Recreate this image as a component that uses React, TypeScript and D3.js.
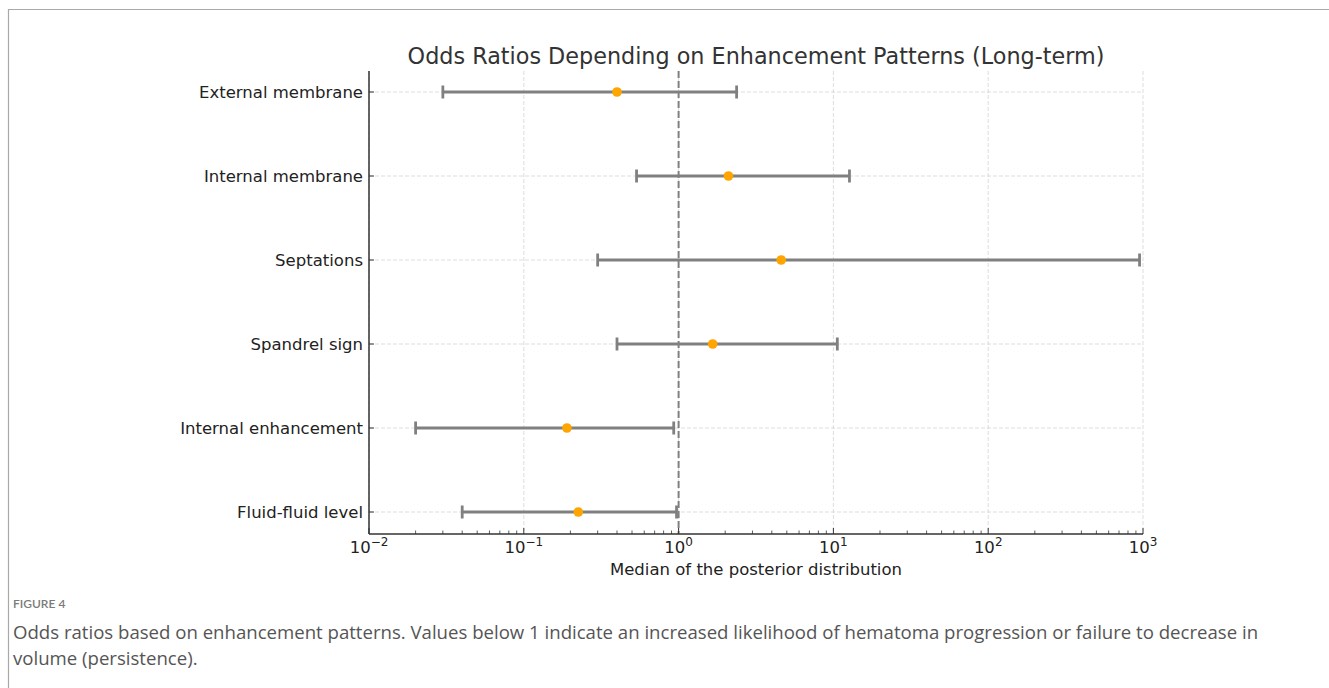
import React, { useEffect, useRef } from 'react';
import * as d3 from 'd3';

const categories = [
  'External membrane',
  'Internal membrane',
  'Septations',
  'Spandrel sign',
  'Internal enhancement',
  'Fluid-fluid level',
];
const medians = [0.4, 2.1, 4.6, 1.66, 0.19, 0.225];
const lower = [0.03, 0.535, 0.3, 0.4, 0.02, 0.04];
const upper = [2.37, 12.7, 950, 10.6, 0.93, 0.97];
const tickExponents = [-2, -1, 0, 1, 2, 3];

const captionLines = [
  'Odds ratios based on enhancement patterns. Values below 1 indicate an increased likelihood of hematoma progression or failure to decrease in',
  'volume (persistence).',
];

function App() {
  const ref = useRef<SVGSVGElement | null>(null);

  useEffect(() => {
    if (!ref.current) return;
    const svg = d3.select(ref.current);
    svg.selectAll('*').remove();

    const left = 369, right = 1143, top = 71, bottom = 534;
    const font = 'DejaVu Sans, sans-serif';

    // frame around the figure
    svg.append('path')
      .attr('d', 'M8.5,688 V9.5 H1329')
      .attr('fill', 'none')
      .attr('stroke', '#a8a8a8')
      .attr('stroke-width', 1.2);

    const x = d3.scaleLog().domain([0.01, 1000]).range([left, right]);
    const y = d3.scalePoint().domain(categories).range([92, 512]);

    const g = svg.append('g');

    // grid
    g.selectAll('.vgrid')
      .data(tickExponents)
      .enter()
      .append('line')
      .attr('x1', d => x(Math.pow(10, d)))
      .attr('x2', d => x(Math.pow(10, d)))
      .attr('y1', top)
      .attr('y2', bottom)
      .attr('stroke', '#d4d4d4')
      .attr('stroke-width', 0.8)
      .attr('stroke-dasharray', '4,2');
    g.selectAll('.hgrid')
      .data(categories)
      .enter()
      .append('line')
      .attr('x1', left)
      .attr('x2', right)
      .attr('y1', d => y(d)!)
      .attr('y2', d => y(d)!)
      .attr('stroke', '#d4d4d4')
      .attr('stroke-width', 0.8)
      .attr('stroke-dasharray', '4,2');

    // reference line at OR = 1
    g.append('line')
      .attr('x1', x(1))
      .attr('x2', x(1))
      .attr('y1', top)
      .attr('y2', bottom)
      .attr('stroke', '#808080')
      .attr('stroke-width', 2)
      .attr('stroke-dasharray', '7,3');

    // error bars
    const rows = categories.map((c, i) => ({ c, m: medians[i], lo: lower[i], hi: upper[i] }));
    const bars = g.selectAll('.bar').data(rows).enter().append('g');
    bars.append('line')
      .attr('x1', d => x(d.lo))
      .attr('x2', d => x(d.hi))
      .attr('y1', d => y(d.c)!)
      .attr('y2', d => y(d.c)!)
      .attr('stroke', '#808080')
      .attr('stroke-width', 3);
    ['lo', 'hi'].forEach(k => {
      bars.append('line')
        .attr('x1', (d: any) => x(d[k]))
        .attr('x2', (d: any) => x(d[k]))
        .attr('y1', d => y(d.c)! - 6.5)
        .attr('y2', d => y(d.c)! + 6.5)
        .attr('stroke', '#808080')
        .attr('stroke-width', 2.8);
    });
    bars.append('circle')
      .attr('cx', d => x(d.m))
      .attr('cy', d => y(d.c)!)
      .attr('r', 4.8)
      .attr('fill', '#ffa500');

    // spines
    g.append('line').attr('x1', left).attr('x2', left).attr('y1', top).attr('y2', bottom)
      .attr('stroke', '#333').attr('stroke-width', 1.5);
    g.append('line').attr('x1', left).attr('x2', right).attr('y1', bottom).attr('y2', bottom)
      .attr('stroke', '#333').attr('stroke-width', 1.5);

    // x ticks (inward)
    const minor: number[] = [];
    tickExponents.slice(0, -1).forEach(e => {
      for (let k = 2; k <= 9; k++) minor.push(k * Math.pow(10, e));
    });
    g.selectAll('.minor').data(minor).enter().append('line')
      .attr('x1', d => x(d)).attr('x2', d => x(d))
      .attr('y1', bottom).attr('y2', bottom - 3.5)
      .attr('stroke', '#333').attr('stroke-width', 0.8);
    g.selectAll('.major').data(tickExponents).enter().append('line')
      .attr('x1', d => x(Math.pow(10, d))).attr('x2', d => x(Math.pow(10, d)))
      .attr('y1', bottom).attr('y2', bottom - 6)
      .attr('stroke', '#333').attr('stroke-width', 1);

    const tl = g.selectAll('.tl').data(tickExponents).enter().append('text')
      .attr('x', d => x(Math.pow(10, d)))
      .attr('y', 553)
      .attr('text-anchor', 'middle')
      .attr('font-family', font)
      .attr('font-size', 16.5)
      .attr('fill', '#222');
    tl.append('tspan').text('10');
    tl.append('tspan')
      .attr('dy', -7)
      .attr('font-size', 12)
      .text(d => (d < 0 ? '\u2212' + Math.abs(d) : String(d)));

    // y ticks (inward) and labels
    g.selectAll('.yt').data(categories).enter().append('line')
      .attr('x1', left).attr('x2', left + 5)
      .attr('y1', d => y(d)!).attr('y2', d => y(d)!)
      .attr('stroke', '#333').attr('stroke-width', 1);
    g.selectAll('.yl').data(categories).enter().append('text')
      .attr('x', left - 6)
      .attr('y', d => y(d)!)
      .attr('dy', '0.35em')
      .attr('text-anchor', 'end')
      .attr('font-family', font)
      .attr('font-size', 16.5)
      .attr('fill', '#222')
      .text(d => d);

    // axis label and title
    g.append('text')
      .attr('x', (left + right) / 2)
      .attr('y', 575)
      .attr('text-anchor', 'middle')
      .attr('font-family', font)
      .attr('font-size', 16.5)
      .attr('fill', '#222')
      .text('Median of the posterior distribution');
    g.append('text')
      .attr('x', (left + right) / 2)
      .attr('y', 64)
      .attr('text-anchor', 'middle')
      .attr('font-family', font)
      .attr('font-size', 22.3)
      .attr('fill', '#333')
      .text('Odds Ratios Depending on Enhancement Patterns (Long-term)');

    // caption
    svg.append('text')
      .attr('x', 13)
      .attr('y', 608)
      .attr('font-family', 'Lato, sans-serif')
      .attr('font-size', 12)
      .attr('font-weight', 600)
      .attr('fill', '#7a7a7a')
      .text('FIGURE 4');
    svg.selectAll('.cap').data(captionLines).enter().append('text')
      .attr('x', 13)
      .attr('y', (d, i) => 639 + i * 26)
      .attr('font-family', 'Open Sans, sans-serif')
      .attr('font-size', 18.6)
      .attr('fill', '#555')
      .text(d => d);
  }, []);

  return (
    <svg
      ref={ref}
      width={1329}
      height={688}
      style={{ position: 'absolute', left: 0, top: 0, background: '#fff' }}
    />
  );
}

export default App;
